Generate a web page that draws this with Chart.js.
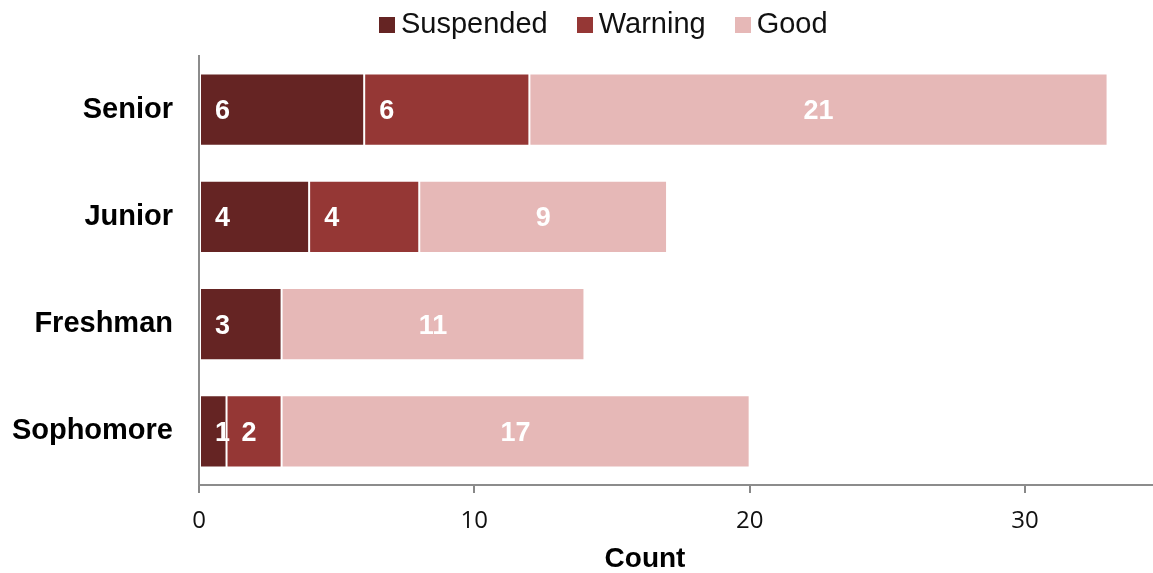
<!DOCTYPE html>
<html>
<head>
<meta charset="utf-8">
<script src="https://cdn.jsdelivr.net/npm/chart.js@4"></script>
<style>
  html, body { margin: 0; padding: 0; background: #fff; overflow: hidden; }
  #wrap { position: relative; width: 1153px; height: 573px; }
  #legenda {
    position: absolute; left: 379px; top: 7px; display: flex; align-items: center;
    font-family: "Liberation Sans", Arial, sans-serif; font-size: 29px; color: #111;
  }
  #legenda .item { display: flex; align-items: center; margin-right: 29px; }
  #legenda .caixa { width: 16px; height: 16px; margin-right: 6px; margin-top: 2px; }
</style>
</head>
<body>
<div id="wrap">
  <canvas id="grafico" width="1153" height="573"></canvas>
  <div id="legenda"></div>
</div>
<script>
const categorias = ['Senior', 'Junior', 'Freshman', 'Sophomore'];
const suspensos = [6, 4, 3, 1];
const avisos = [6, 4, 0, 2];
const bons = [21, 9, 11, 17];
const ticksX = [0, 10, 20, 30];

const cores = ['#652423', '#953735', '#e6b8b7'];

// rotulos brancos dentro das barras
const rotulosBarras = {
  id: 'rotulosBarras',
  afterDatasetsDraw(chart) {
    const ctx = chart.ctx;
    ctx.save();
    ctx.fillStyle = '#fff';
    ctx.font = 'bold 27px "Liberation Sans", Arial, sans-serif';
    ctx.textBaseline = 'middle';
    chart.data.datasets.forEach((ds, i) => {
      const meta = chart.getDatasetMeta(i);
      meta.data.forEach((bar, j) => {
        const v = ds.data[j];
        if (!v) return;
        if (i < 2) {
          ctx.textAlign = 'left';
          ctx.fillText(String(v), bar.base + 15, bar.y + 2);
        } else {
          ctx.textAlign = 'center';
          ctx.fillText(String(v), (bar.base + bar.x) / 2, bar.y + 2);
        }
      });
    });
    ctx.restore();
  },
  afterDraw(chart) {
    const ctx = chart.ctx;
    const area = chart.chartArea;
    ctx.save();
    ctx.fillStyle = '#000';
    ctx.font = 'bold 28px "Liberation Sans", Arial, sans-serif';
    ctx.textAlign = 'center';
    ctx.textBaseline = 'middle';
    ctx.fillText('Count', area.left + 446, 559);
    ctx.restore();
  }
};

const nomes = ['Suspended', 'Warning', 'Good'];
const series = [suspensos, avisos, bons];

const grafico = new Chart(document.getElementById('grafico'), {
  type: 'bar',
  data: {
    labels: categorias,
    datasets: series.map((d, i) => ({
      label: nomes[i],
      data: d,
      backgroundColor: cores[i],
      borderColor: 'rgba(255,255,255,0.12)',
      borderWidth: 1,
      borderSkipped: false,
      categoryPercentage: 1,
      barPercentage: 0.673
    }))
  },
  options: {
    indexAxis: 'y',
    responsive: false,
    animation: false,
    layout: { padding: { top: 56, left: 0, right: 0, bottom: 0 } },
    plugins: {
      legend: { display: false },
      tooltip: { enabled: false }
    },
    scales: {
      x: {
        stacked: true,
        min: 0,
        max: 34.65,
        afterBuildTicks(scale) {
          scale.ticks = ticksX.map(v => ({ value: v }));
        },
        afterFit(scale) { scale.height = 88; },
        grid: { drawOnChartArea: false, drawTicks: true, tickLength: 8, color: '#888', lineWidth: 2 },
        border: { display: true, color: '#8c8c8c', width: 2 },
        ticks: {
          color: '#111',
          padding: 14,
          font: { family: '"Open Sans", sans-serif', size: 24 }
        }
      },
      y: {
        stacked: true,
        afterFit(scale) { scale.width = 199; },
        grid: { display: false, drawTicks: false },
        border: { display: true, color: '#8c8c8c', width: 2 },
        ticks: {
          color: '#000',
          padding: 26,
          font: { family: '"Liberation Sans", Arial, sans-serif', size: 29, weight: 'bold' }
        }
      }
    }
  },
  plugins: [rotulosBarras]
});

// legenda em html, feita a partir dos datasets
const leg = document.getElementById('legenda');
grafico.data.datasets.forEach(ds => {
  const item = document.createElement('div');
  item.className = 'item';
  const caixa = document.createElement('span');
  caixa.className = 'caixa';
  caixa.style.background = ds.backgroundColor;
  const txt = document.createElement('span');
  txt.textContent = ds.label;
  item.appendChild(caixa);
  item.appendChild(txt);
  leg.appendChild(item);
});
</script>
</body>
</html>
